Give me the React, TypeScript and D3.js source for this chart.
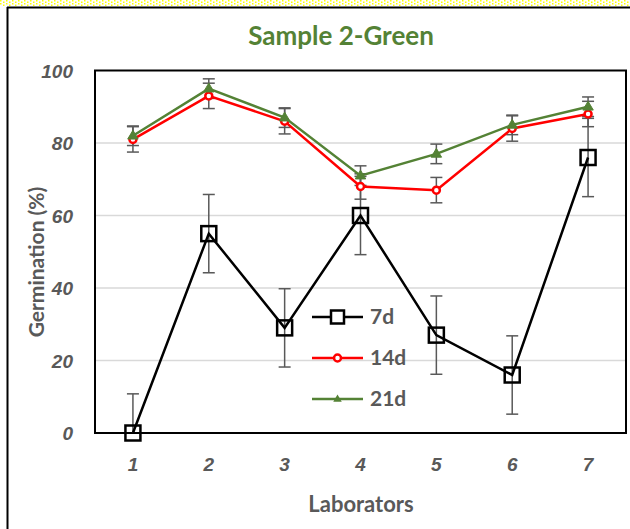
import React from "react";
import * as d3 from "d3";

const labs = ["1", "2", "3", "4", "5", "6", "7"];
const d7 = [0, 55, 29, 60, 27, 16, 76];
const d7err = [10.8, 10.8, 10.8, 10.8, 10.8, 10.8, 10.8];
const d14 = [81, 93, 86, 68, 67, 84, 88];
const d14err = [3.5, 3.5, 3.5, 3.5, 3.5, 3.5, 3.5];
const d21 = [82, 95, 87, 71, 77, 85, 90];
const d21err = [2.7, 2.7, 2.7, 2.7, 2.7, 2.7, 2.7];
const yTicks = [0, 20, 40, 60, 80, 100];
const seriesNames = ["7d", "14d", "21d"];

const W = 630, H = 529;
const left = 95, right = 626, top = 70.5, bottom = 433;
const FONT = "Lato, 'Open Sans', sans-serif";
const TICKFONT = "'Liberation Sans', Arial, sans-serif";
const GRAY = "#595959";

export default function App() {
  const x = d3.scaleBand().domain(labs).range([left, right]);
  const cx = (l: string) => (x(l) as number) + x.bandwidth() / 2;
  const y = d3.scaleLinear().domain([0, 100]).range([bottom, top]);
  const line = d3.line<number>().x((_, i) => cx(labs[i])).y((v) => y(v));

  const errBars = (vals: number[], errs: number[], key: string) =>
    vals.map((v, i) => {
      const xx = cx(labs[i]);
      const y1 = y(Math.min(v + errs[i], 100));
      const lo = v - errs[i];
      const y0 = y(Math.max(lo, 0));
      return (
        <g key={key + i} stroke={GRAY} strokeWidth={1.5}>
          <line x1={xx} x2={xx} y1={y1} y2={y0} />
          <line x1={xx - 6} x2={xx + 6} y1={y1} y2={y1} />
          {lo >= 0 && <line x1={xx - 6} x2={xx + 6} y1={y0} y2={y0} />}
        </g>
      );
    });

  const tri = (px: number, py: number, s: number) =>
    `M${px},${py - s}L${px + s * 0.95},${py + s * 0.6}L${px - s * 0.95},${py + s * 0.6}Z`;

  const legendY = [317, 358, 399];

  return (
    <svg width={W} height={H} style={{ position: "absolute", left: 0, top: 0 }}>
      <defs>
        <pattern id="dots" width="6" height="3" patternUnits="userSpaceOnUse">
          <rect x="0" y="0" width="1.5" height="1.5" fill="#ffff00" />
          <rect x="3" y="1.5" width="1.5" height="1.5" fill="#ffff00" />
        </pattern>
      </defs>
      <rect x={0} y={0} width={W} height={H} fill="#fff" />
      <rect x={0} y={0} width={W} height={6} fill="url(#dots)" />
      <line x1={7} x2={W} y1={7.5} y2={7.5} stroke="#000" strokeWidth={2} />
      <line x1={7.5} x2={7.5} y1={7} y2={H} stroke="#000" strokeWidth={2} />

      <text x={341} y={45} textAnchor="middle" fontFamily={FONT} fontWeight="bold" fontSize={26} fill="#548235">
        Sample 2-Green
      </text>

      {yTicks.filter((t) => t > 0 && t < 100).map((t) => (
        <line key={"g" + t} x1={left} x2={right} y1={y(t)} y2={y(t)} stroke="#d9d9d9" strokeWidth={1.5} />
      ))}
      <rect x={left} y={top} width={right - left} height={bottom - top} fill="none" stroke="#000" strokeWidth={2} />

      {yTicks.map((t) => (
        <text key={"yt" + t} x={73} y={y(t) + 7} textAnchor="end" fontFamily={TICKFONT} fontWeight="bold" fontStyle="italic" fontSize={19} fill={GRAY}>
          {t}
        </text>
      ))}
      {labs.map((l) => (
        <text key={"xt" + l} x={cx(l)} y={471} textAnchor="middle" fontFamily={TICKFONT} fontWeight="bold" fontStyle="italic" fontSize={19} fill={GRAY}>
          {l}
        </text>
      ))}
      <text x={361} y={512} textAnchor="middle" fontFamily={FONT} fontWeight="bold" fontSize={22} fill={GRAY}>
        Laborators
      </text>
      <text transform={`translate(44,262) rotate(-90)`} textAnchor="middle" fontFamily={FONT} fontWeight="bold" fontSize={21} fill={GRAY}>
        Germination (%)
      </text>

      {errBars(d7, d7err, "e7")}
      {errBars(d14, d14err, "e14")}
      {errBars(d21, d21err, "e21")}

      <path d={line(d7) as string} fill="none" stroke="#000" strokeWidth={2.5} />
      {d7.map((v, i) => (
        <rect key={"m7" + i} x={cx(labs[i]) - 7.5} y={y(v) - 7.5} width={15} height={15} fill="none" stroke="#000" strokeWidth={2.5} />
      ))}
      <path d={line(d14) as string} fill="none" stroke="#ff0000" strokeWidth={2.5} />
      {d14.map((v, i) => (
        <circle key={"m14" + i} cx={cx(labs[i])} cy={y(v)} r={3.5} fill="#fff" stroke="#ff0000" strokeWidth={2.5} />
      ))}
      <path d={line(d21) as string} fill="none" stroke="#548235" strokeWidth={2.5} />
      {d21.map((v, i) => (
        <path key={"m21" + i} d={tri(cx(labs[i]), y(v), 5.5)} fill="#548235" stroke="#548235" strokeWidth={1} />
      ))}

      {seriesNames.map((n, i) => {
        const ly = legendY[i];
        const color = i === 0 ? "#000" : i === 1 ? "#ff0000" : "#548235";
        return (
          <g key={"lg" + n}>
            <line x1={312} x2={363} y1={ly} y2={ly} stroke={color} strokeWidth={2.5} />
            {i === 0 && <rect x={331} y={ly - 6.5} width={13} height={13} fill="#fff" stroke="#000" strokeWidth={2.5} />}
            {i === 1 && <circle cx={337.5} cy={ly} r={3.5} fill="#fff" stroke="#ff0000" strokeWidth={2.5} />}
            {i === 2 && <path d={tri(337.5, ly, 4.5)} fill="#548235" />}
            <text x={370} y={ly + 7} fontFamily={FONT} fontWeight="bold" fontSize={21} fill={GRAY}>
              {n}
            </text>
          </g>
        );
      })}
    </svg>
  );
}
